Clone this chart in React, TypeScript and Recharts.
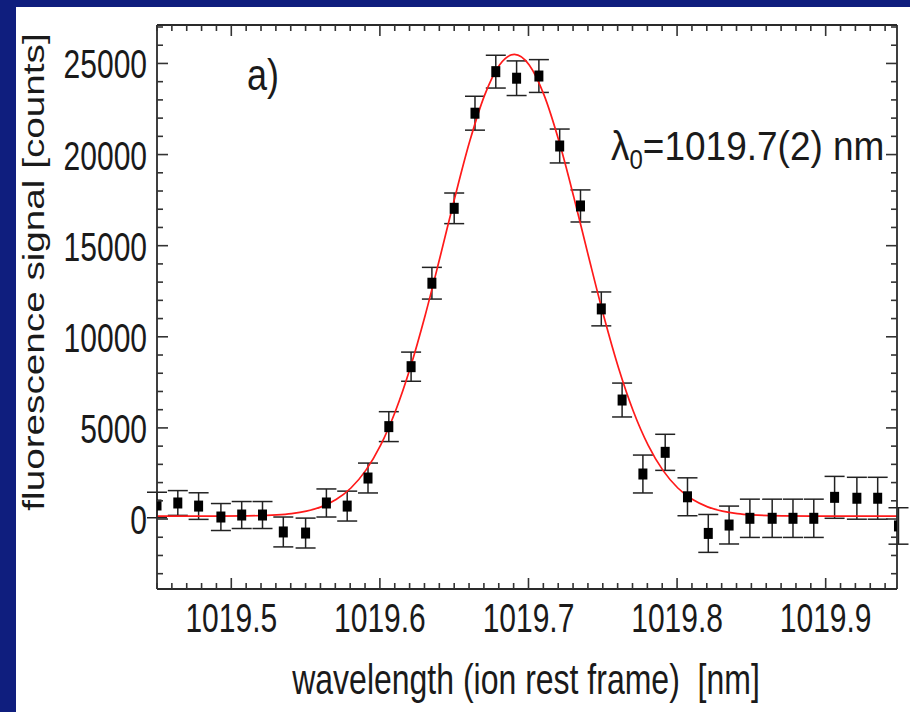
import React from 'react';
import { ComposedChart, XAxis, YAxis, Scatter, Line, ErrorBar } from 'recharts';

// measured data points
const wavelength = [
  1019.450, 1019.464, 1019.478, 1019.493, 1019.507, 1019.521, 1019.535, 1019.550, 1019.564,
  1019.578, 1019.592, 1019.606, 1019.621, 1019.635, 1019.650, 1019.664, 1019.678, 1019.692,
  1019.707, 1019.721, 1019.735, 1019.749, 1019.763, 1019.777, 1019.792, 1019.807, 1019.821,
  1019.835, 1019.849, 1019.864, 1019.878, 1019.892, 1019.906, 1019.921, 1019.935, 1019.949,
];
const signal = [
  770, 880, 710, 110, 220, 220, -710, -770, 880,
  710, 2250, 5070, 8360, 12940, 17050, 22270, 24550, 24190,
  24310, 20470, 17180, 11530, 6530, 2470, 3660, 1220, -790,
  -330, 40, 40, 40, 40, 1190, 1140, 1140, -380,
];
const signalError = [
  700, 680, 730, 740, 740, 740, 820, 820, 770,
  820, 820, 820, 800, 870, 840, 930, 900, 950,
  900, 930, 880, 930, 930, 1040, 990, 1040, 1040,
  1040, 1050, 1050, 1050, 1050, 1150, 1150, 1150, 1000,
];

// fitted curve
const fitWavelength = [
  1019.45, 1019.4905, 1019.5105, 1019.5305, 1019.5405, 1019.5505, 1019.5605, 1019.5705,
  1019.5805, 1019.5905, 1019.6005, 1019.6105, 1019.6205, 1019.6305, 1019.6405, 1019.6505,
  1019.6605, 1019.6705, 1019.6805, 1019.6905, 1019.7005, 1019.7105, 1019.7205, 1019.7305,
  1019.7405, 1019.7505, 1019.7605, 1019.7705, 1019.7805, 1019.7905, 1019.8005, 1019.8105,
  1019.8205, 1019.8305, 1019.8405, 1019.8505, 1019.8705, 1019.8905, 1019.948,
];
const fitSignal = [
  160, 162, 174, 228, 299, 433, 669, 1067,
  1703, 2669, 4055, 5930, 8319, 11183, 14376, 17665,
  20739, 23263, 24920, 25500, 24920, 23263, 20739, 17665,
  14376, 11183, 8319, 5930, 4055, 2669, 1703, 1067,
  669, 433, 299, 228, 174, 162, 160,
];

const xTickLabels = [1019.5, 1019.6, 1019.7, 1019.8, 1019.9];
const yTickLabels = [0, 5000, 10000, 15000, 20000, 25000];
const xAllTicks = Array.from({ length: 50 }, (_, i) => Number((1019.45 + i * 0.01).toFixed(2)));
const yAllTicks = Array.from({ length: 31 }, (_, i) => -3000 + i * 1000);

const X_DOMAIN: [number, number] = [1019.45, 1019.948];
const Y_DOMAIN: [number, number] = [-3840, 27110];

const points = wavelength.map((x, i) => ({ x, y: signal[i], e: signalError[i] }));
const fit = fitWavelength.map((x, i) => ({ x, y: fitSignal[i] }));

const FONT = "'Liberation Sans', Arial, Helvetica, sans-serif";
const TEXT = '#1a1a1a';
const FRAME = '#2a2a2a';
const TICK = '#333333';
const K = 1.38;
const MAJ = 11;
const MIN = 6;

const isMajorX = (v: number) => xTickLabels.some((t) => Math.abs(t - v) < 1e-6);
const isMajorY = (v: number) => yTickLabels.some((t) => Math.abs(t - v) < 1e-6);

// (x, y) handed in by the axis is the point on the axis line (tickSize -11, tickMargin 11)
const BottomTick = (props: any) => {
  const { x, y, payload } = props;
  const major = isMajorX(payload.value);
  return (
    <g>
      <line x1={x} y1={y} x2={x} y2={y - (major ? MAJ : MIN)} stroke={TICK} strokeWidth={1.6} />
      {major && (
        <text transform={`translate(${x},${y + 43}) scale(1,${K})`} textAnchor="middle" fontSize={30}
          fontFamily={FONT} fill={TEXT}>
          {Number(payload.value).toFixed(1)}
        </text>
      )}
    </g>
  );
};

const TopTick = (props: any) => {
  const { x, y, payload } = props;
  const major = isMajorX(payload.value);
  return <line x1={x} y1={y} x2={x} y2={y + (major ? MAJ : MIN)} stroke={TICK} strokeWidth={1.6} />;
};

const LeftTick = (props: any) => {
  const { x, y, payload } = props;
  const major = isMajorY(payload.value);
  return (
    <g>
      <line x1={x} y1={y} x2={x + (major ? MAJ : MIN)} y2={y} stroke={TICK} strokeWidth={1.6} />
      {major && (
        <text transform={`translate(${x - 10},${y + 15}) scale(1,${K})`} textAnchor="end" fontSize={30}
          fontFamily={FONT} fill={TEXT}>
          {String(payload.value)}
        </text>
      )}
    </g>
  );
};

const RightTick = (props: any) => {
  const { x, y, payload } = props;
  const major = isMajorY(payload.value);
  return <line x1={x} y1={y} x2={x - (major ? MAJ : MIN)} y2={y} stroke={TICK} strokeWidth={1.6} />;
};

const Square = (props: any) => {
  const { cx, cy } = props;
  if (cx == null || cy == null) return null;
  return <rect x={cx - 4.5} y={cy - 5.5} width={9} height={11} fill="#000" />;
};

const frameLine = { stroke: FRAME, strokeWidth: 1.8 };

export default function App() {
  return (
    <div style={{ position: 'fixed', left: 0, top: 0, width: 910, height: 712, background: '#0f1e7e', overflow: 'hidden' }}>
      <div style={{ position: 'absolute', left: 16, top: 7, width: 894, height: 705, background: '#ffffff' }} />
      <div style={{ position: 'absolute', left: 0, top: 0 }}>
        <ComposedChart width={910} height={712} margin={{ top: 24, right: 12, bottom: 122, left: 156 }}>
          <XAxis xAxisId="x" dataKey="x" type="number" domain={X_DOMAIN} allowDataOverflow
            ticks={xAllTicks} interval={0} height={1} tickSize={-11} tickMargin={11}
            tickLine={false} axisLine={frameLine} tick={<BottomTick />} />
          <XAxis xAxisId="xt" dataKey="x" orientation="top" type="number" domain={X_DOMAIN} allowDataOverflow
            ticks={xAllTicks} interval={0} height={1} tickSize={-11} tickMargin={11}
            tickLine={false} axisLine={frameLine} tick={<TopTick />} />
          <YAxis yAxisId="y" dataKey="y" type="number" domain={Y_DOMAIN} allowDataOverflow
            ticks={yAllTicks} interval={0} width={1} tickSize={-11} tickMargin={11}
            tickLine={false} axisLine={frameLine} tick={<LeftTick />} />
          <YAxis yAxisId="yr" dataKey="y" orientation="right" type="number" domain={Y_DOMAIN} allowDataOverflow
            ticks={yAllTicks} interval={0} width={1} tickSize={-11} tickMargin={11}
            tickLine={false} axisLine={frameLine} tick={<RightTick />} />

          {/* invisible twin of the fit, so the top/right frame axes carry ticks */}
          <Line xAxisId="xt" yAxisId="yr" data={fit} dataKey="y" stroke="none" dot={false}
            activeDot={false} isAnimationActive={false} />

          <Scatter xAxisId="x" yAxisId="y" data={points} dataKey="y" shape={<Square />} isAnimationActive={false}>
            <ErrorBar dataKey="e" direction="y" width={10} stroke="#222" strokeWidth={1.5} isAnimationActive={false} />
          </Scatter>
          <Line xAxisId="x" yAxisId="y" data={fit} dataKey="y" type="monotone" stroke="#ff1a1a"
            strokeWidth={1.7} dot={false} activeDot={false} isAnimationActive={false} />
        </ComposedChart>
      </div>
      <svg width={910} height={712} style={{ position: 'absolute', left: 0, top: 0, pointerEvents: 'none' }}>
        <text transform="translate(44,272) rotate(-90) scale(1.29,1)" textAnchor="middle" fontSize={30}
          fontFamily={FONT} fill={TEXT} style={{ whiteSpace: 'pre' }}>
          fluorescence signal [counts]
        </text>
        <text transform="translate(526,694) scale(1,1.35)" textAnchor="middle" fontSize={32}
          fontFamily={FONT} fill={TEXT} style={{ whiteSpace: 'pre' }}>
          {'wavelength (ion rest frame)  [nm]'}
        </text>
        <text transform="translate(247,90) scale(1,1.22)" fontSize={36} fontFamily={FONT} fill={TEXT}>
          a)
        </text>
        <text transform="translate(611,160) scale(1,1.12)" fontSize={37} fontFamily={FONT} fill={TEXT}>
          λ<tspan fontSize={24} dy={8}>0</tspan><tspan dy={-8}>=1019.7(2) nm</tspan>
        </text>
      </svg>
    </div>
  );
}
